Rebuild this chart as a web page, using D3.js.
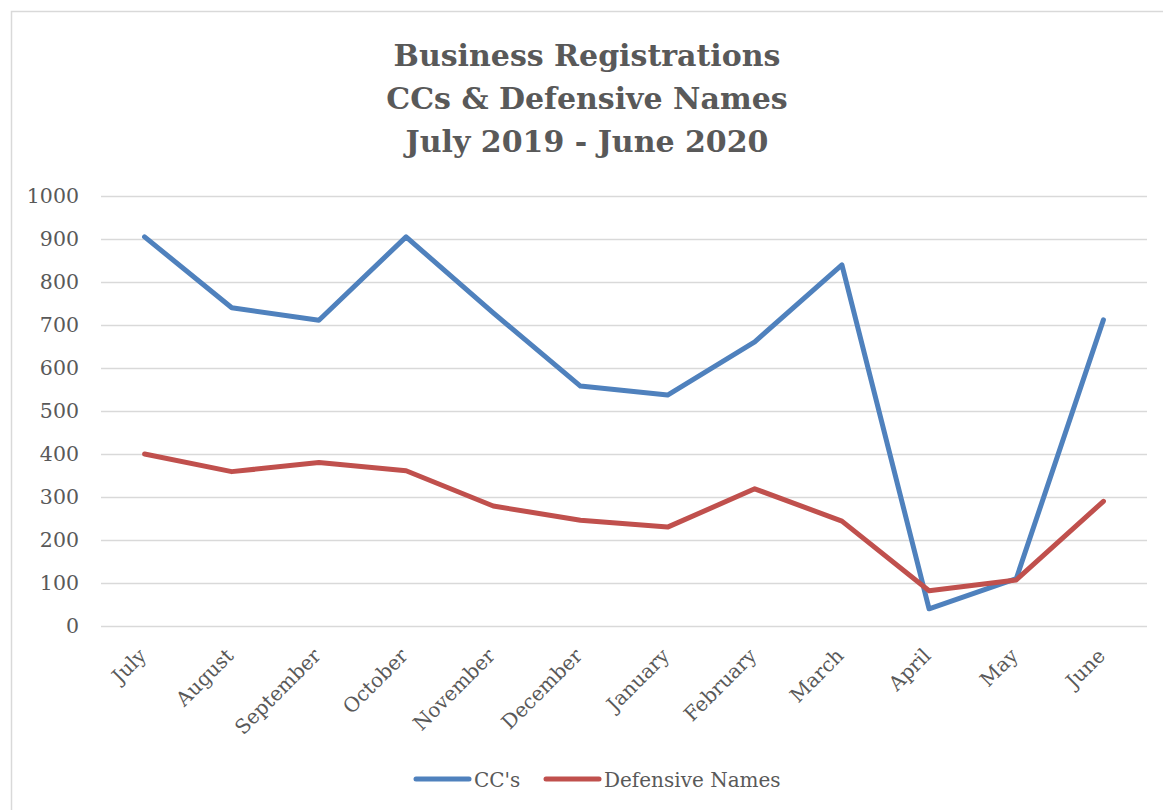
<!DOCTYPE html>
<html>
<head>
<meta charset="utf-8">
<script src="https://cdn.jsdelivr.net/npm/d3@7"></script>
<style>
  body { margin: 0; background: #fff; }
  text { font-family: "DejaVu Serif", "Liberation Serif", serif; fill: #595959; }
</style>
</head>
<body>
<svg width="1163" height="810"></svg>
<script>
const months = ["July", "August", "September", "October", "November", "December",
    "January", "February", "March", "April", "May", "June"];
const ccs = [905, 740, 711, 905, 728, 558, 537, 661, 840, 40, 110, 712];
const defensive = [400, 359, 380, 361, 279, 246, 230, 319, 244, 82, 107, 290];
const yTicks = [0, 100, 200, 300, 400, 500, 600, 700, 800, 900, 1000];
const titleLines = ["Business Registrations", "CCs & Defensive Names", "July 2019 - June 2020"];

const series = [
    {name: "CC's", values: ccs, color: "#4f81bd"},
    {name: "Defensive Names", values: defensive, color: "#c0504d"},
];

const svg = d3.select("svg");

// chart frame
svg.append("rect")
    .attr("x", 11.5).attr("y", 11.5)
    .attr("width", 1160).attr("height", 810)
    .attr("fill", "#fff")
    .attr("stroke", "#d9d9d9")
    .attr("stroke-width", 1.5);

const x = d3.scaleBand().domain(months).range([101, 1147]);
const y = d3.scaleLinear().domain([0, 1000]).range([626, 196]);

svg.append("g")
    .selectAll("text")
    .data(titleLines)
    .enter().append("text")
    .attr("x", 587)
    .attr("y", (d, i) => 66 + i * 43)
    .attr("text-anchor", "middle")
    .style("font-size", "30px")
    .style("font-weight", "bold")
    .text(d => d);

// gridlines + y labels
const yAxis = svg.append("g")
    .attr("transform", "translate(101,0)")
    .call(d3.axisLeft(y).tickValues(yTicks).tickFormat(d3.format("d")).tickSize(-1046).tickPadding(22));
yAxis.select(".domain").remove();
yAxis.selectAll(".tick line").attr("stroke", "#d9d9d9").attr("stroke-width", 1.5);
yAxis.selectAll(".tick text")
    .style("font-size", "20.5px")
    .style("font-family", null)
    .attr("fill", "#595959");

// x labels
const xAxis = svg.append("g")
    .attr("transform", "translate(0,626)")
    .call(d3.axisBottom(x).tickSize(0).tickPadding(0));
xAxis.select(".domain").remove();
xAxis.selectAll(".tick text")
    .style("font-size", "20px")
    .style("font-family", null)
    .attr("fill", "#595959")
    .attr("text-anchor", "end")
    .attr("dy", 0)
    .attr("transform", "translate(3,31) rotate(-45)");

const line = d3.line()
    .x((d, i) => x(months[i]) + x.bandwidth() / 2)
    .y(d => y(d));

svg.append("g")
    .selectAll("path")
    .data(series)
    .enter().append("path")
    .attr("d", d => line(d.values))
    .attr("fill", "none")
    .attr("stroke", d => d.color)
    .attr("stroke-width", 5)
    .attr("stroke-linejoin", "round")
    .attr("stroke-linecap", "round");

// legend
const legendX = [416, 546];
const legend = svg.append("g")
    .selectAll("g")
    .data(series)
    .enter().append("g")
    .attr("transform", (d, i) => `translate(${legendX[i]},779)`);
legend.append("line")
    .attr("x1", 0).attr("x2", 53)
    .attr("stroke", d => d.color)
    .attr("stroke-width", 5)
    .attr("stroke-linecap", "round");
legend.append("text")
    .attr("x", 58)
    .attr("y", 8)
    .style("font-size", "20px")
    .text(d => d.name);
</script>
</body>
</html>
